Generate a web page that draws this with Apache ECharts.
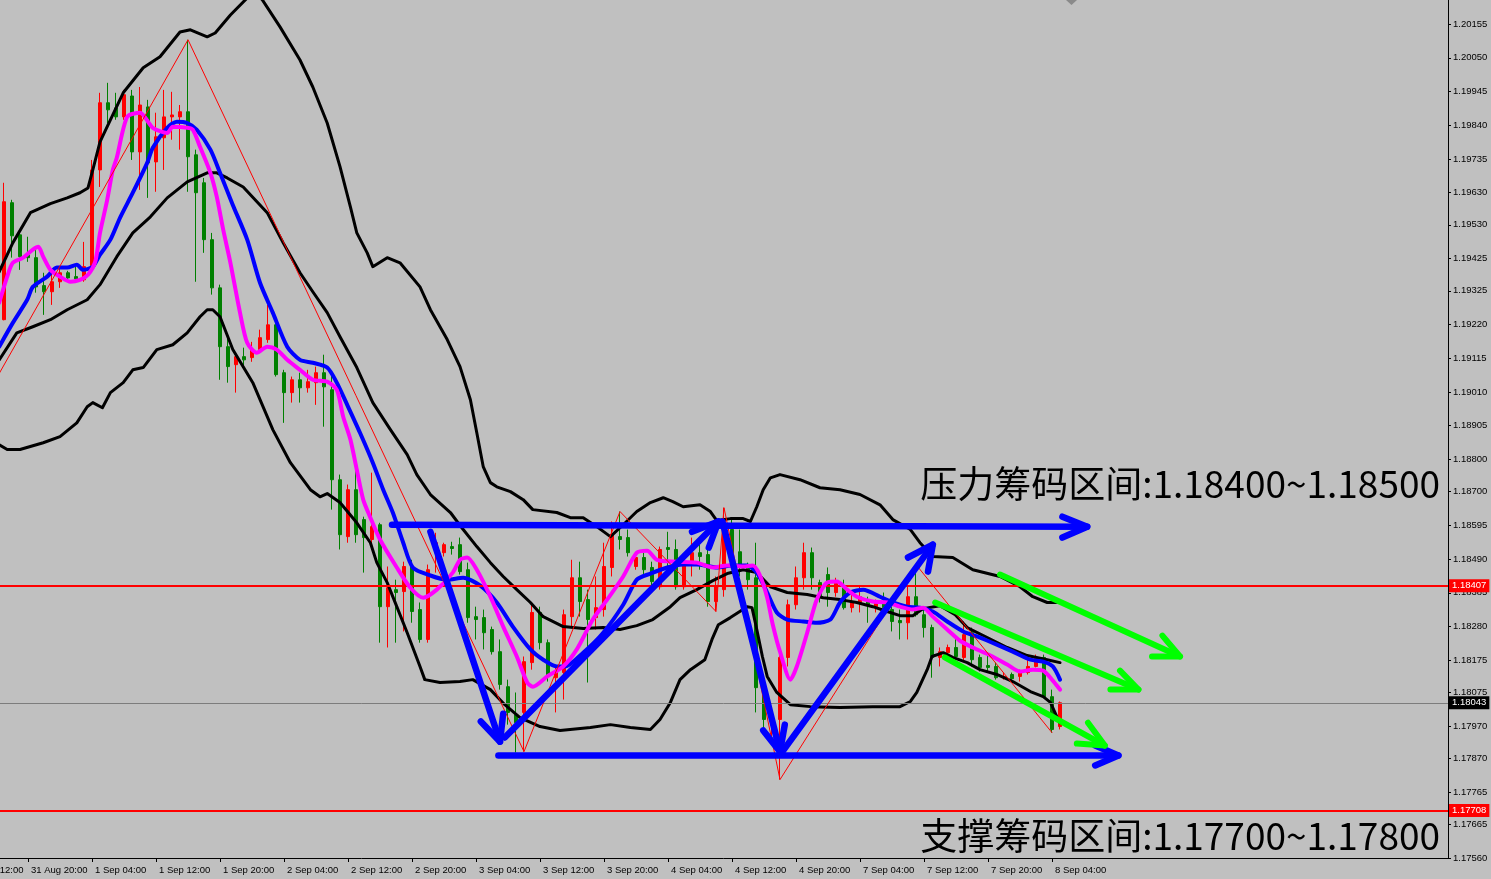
<!DOCTYPE html>
<html><head><meta charset="utf-8">
<script src="https://cdn.jsdelivr.net/npm/echarts@6.0.0/dist/echarts.min.js"></script>
<style>html,body{margin:0;padding:0;background:#c0c0c0;}#chart{width:1491px;height:879px;}</style>
</head><body><div id="chart"></div>
<script>
// ---------- categories (H1 bars) ----------
const dayBlocks = [['31 Aug',12,23],['1 Sep',0,23],['2 Sep',0,23],['3 Sep',0,23],['4 Sep',0,23],['7 Sep',0,23],['8 Sep',0,23],['9 Sep',0,23],['10 Sep',0,5]];
const firstBar = 5; // 31 Aug 17:00
// ---------- candles [open, close, low, high] ----------
const ohlc = [
[1.19235,1.19602,1.19233,1.19661],[1.19599,1.19496,1.19428,1.19608],[1.19499,1.19431,1.19390,1.19515],[1.19437,1.19428,1.19415,1.19493],
[1.19428,1.19337,1.19319,1.19462],[1.19341,1.19322,1.19250,1.19381],[1.19322,1.19353,1.19281,1.19381],[1.19353,1.19381,1.19334,1.19397],
[1.19381,1.19365,1.19359,1.19387],[1.19369,1.19362,1.19359,1.19400],[1.19359,1.19400,1.19353,1.19477],[1.19403,1.19701,1.19397,1.19732],
[1.19701,1.19910,1.19648,1.19941],[1.19910,1.19888,1.19847,1.19972],[1.19894,1.19866,1.19857,1.19941],[1.19866,1.19935,1.19857,1.19950],
[1.19931,1.19757,1.19732,1.19950],[1.19757,1.19903,1.19639,1.19959],[1.19897,1.19723,1.19614,1.19919],[1.19726,1.19804,1.19633,1.19879],
[1.19801,1.19866,1.19701,1.19950],[1.19866,1.19872,1.19795,1.19944],[1.19866,1.19882,1.19764,1.19903],[1.19882,1.19742,1.19633,1.20106],
[1.19748,1.19630,1.19353,1.19764],[1.19661,1.19484,1.19443,1.19676],[1.19484,1.19334,1.19313,1.19505],[1.19334,1.19151,1.19048,1.19344],
[1.19151,1.19089,1.19039,1.19182],[1.19095,1.19120,1.19008,1.19132],[1.19120,1.19110,1.19089,1.19148],[1.19117,1.19142,1.19104,1.19166],
[1.19142,1.19179,1.19132,1.19204],[1.19173,1.19219,1.19163,1.19281],[1.19219,1.19064,1.19058,1.19235],[1.19070,1.19008,1.18914,1.19079],
[1.19008,1.19048,1.18977,1.19058],[1.19048,1.19023,1.18977,1.19070],[1.19023,1.19042,1.19008,1.19079],[1.19039,1.19070,1.18970,1.19089],
[1.19070,1.19026,1.18902,1.19126],[1.19017,1.18737,1.18644,1.19070],[1.18737,1.18566,1.18520,1.18753],[1.18560,1.18706,1.18541,1.18722],
[1.18706,1.18566,1.18541,1.18768],[1.18613,1.18557,1.18448,1.18622],[1.18551,1.18591,1.18520,1.18759],[1.18597,1.18342,1.18230,1.18603],
[1.18342,1.18401,1.18215,1.18467],[1.18395,1.18386,1.18230,1.18426],[1.18389,1.18467,1.18265,1.18482],[1.18467,1.18327,1.18292,1.18488],
[1.18333,1.18240,1.18230,1.18355],[1.18240,1.18457,1.18230,1.18473],[1.18510,1.18541,1.18448,1.18572],[1.18510,1.18535,1.18498,1.18541],
[1.18529,1.18523,1.18504,1.18544],[1.18535,1.18451,1.18442,1.18557],[1.18457,1.18308,1.18292,1.18479],[1.18311,1.18302,1.18240,1.18342],
[1.18308,1.18261,1.18209,1.18333],[1.18271,1.18202,1.18193,1.18280],[1.18202,1.18100,1.18084,1.18240],[1.18093,1.18013,1.17975,1.18115],
[1.18006,1.17981,1.17888,1.18075],[1.18013,1.18171,1.17891,1.18187],[1.18168,1.18324,1.18146,1.18355],[1.18324,1.18230,1.18209,1.18342],
[1.18230,1.18125,1.18109,1.18240],[1.18121,1.18140,1.18013,1.18153],[1.18137,1.18317,1.18053,1.18333],[1.18311,1.18432,1.18280,1.18488],
[1.18432,1.18358,1.18311,1.18482],[1.18364,1.18302,1.18106,1.18395],[1.18308,1.18339,1.18271,1.18436],[1.18333,1.18467,1.18311,1.18541],
[1.18464,1.18566,1.18436,1.18607],[1.18560,1.18551,1.18520,1.18638],[1.18557,1.18510,1.18498,1.18582],[1.18467,1.18495,1.18457,1.18504],
[1.18495,1.18457,1.18436,1.18510],[1.18464,1.18420,1.18386,1.18482],[1.18404,1.18520,1.18395,1.18529],[1.18526,1.18520,1.18448,1.18575],
[1.18520,1.18404,1.18395,1.18551],[1.18404,1.18473,1.18395,1.18488],[1.18473,1.18510,1.18436,1.18557],[1.18510,1.18498,1.18457,1.18541],
[1.18504,1.18358,1.18342,1.18520],[1.18358,1.18404,1.18327,1.18436],[1.18395,1.18607,1.18373,1.18650],[1.18582,1.18510,1.18488,1.18619],
[1.18513,1.18473,1.18436,1.18582],[1.18473,1.18426,1.18395,1.18479],[1.18432,1.18090,1.18013,1.18541],[1.18090,1.17991,1.17960,1.18125],
[1.17981,1.17991,1.17919,1.18006],[1.17991,1.18184,1.17804,1.18209],[1.18184,1.18348,1.18156,1.18364],[1.18348,1.18432,1.18333,1.18467],
[1.18432,1.18510,1.18395,1.18541],[1.18510,1.18432,1.18395,1.18526],[1.18417,1.18373,1.18355,1.18426],[1.18442,1.18386,1.18342,1.18464],
[1.18386,1.18417,1.18373,1.18432],[1.18401,1.18339,1.18333,1.18426],[1.18339,1.18355,1.18324,1.18386],[1.18355,1.18373,1.18324,1.18404],
[1.18358,1.18348,1.18292,1.18373],[1.18342,1.18358,1.18324,1.18364],[1.18358,1.18339,1.18311,1.18386],[1.18333,1.18296,1.18265,1.18342],
[1.18299,1.18292,1.18240,1.18333],[1.18292,1.18373,1.18240,1.18404],[1.18373,1.18317,1.18311,1.18473],[1.18317,1.18277,1.18246,1.18342],
[1.18277,1.18184,1.18121,1.18286],[1.18184,1.18202,1.18156,1.18215],[1.18199,1.18215,1.18177,1.18224],[1.18215,1.18187,1.18177,1.18246],
[1.18184,1.18255,1.18171,1.18296],[1.18261,1.18177,1.18156,1.18277],[1.18184,1.18153,1.18140,1.18193],[1.18159,1.18153,1.18140,1.18199],
[1.18156,1.18121,1.18115,1.18168],[1.18121,1.18125,1.18115,1.18137],[1.18131,1.18118,1.18109,1.18137],[1.18125,1.18137,1.18109,1.18146],
[1.18137,1.18156,1.18131,1.18193],[1.18156,1.18184,1.18153,1.18193],[1.18184,1.18062,1.18059,1.18193],[1.18062,1.17960,1.17950,1.18084],
[1.17969,1.18043,1.17960,1.18047]
];
// ---------- price-axis tick labels ----------
const yTickValues = [1.20155,1.20050,1.19945,1.19840,1.19735,1.19630,1.19530,1.19425,1.19325,1.19220,1.19115,1.19010,1.18905,1.18800,1.18700,1.18595,1.18490,1.18385,1.18280,1.18175,1.18075,1.17970,1.17870,1.17765,1.17665,1.17560];
// ---------- indicator lines [bar index, price] ----------
const upperBand = [[4.4,1.19384],[6.1,1.19474],[8.3,1.19568],[10.8,1.19596],[12.9,1.19614],[14.5,1.19630],[15.5,1.19645],[16.1,1.19701],[17.0,1.19788],[18.3,1.19857],[19.9,1.19941],[22.4,1.20019],[24.5,1.20053],[27.0,1.20130],[28.3,1.20137],[30.4,1.20115],[31.4,1.20127],[33.3,1.20183],[35.4,1.20236],[36.4,1.20255],[37.3,1.20230],[39.5,1.20146],[42.0,1.20043],[43.6,1.19959],[45.4,1.19847],[47.0,1.19711],[48.3,1.19586],[49.1,1.19505],[50.4,1.19443],[51.1,1.19400],[52.9,1.19428],[54.5,1.19412],[57.0,1.19337],[58.3,1.19266],[60.4,1.19173],[62.0,1.19089],[63.3,1.18986],[64.1,1.18883],[64.9,1.18778],[65.8,1.18728],[66.6,1.18715],[68.3,1.18700],[69.9,1.18675],[71.1,1.18644],[74.1,1.18635],[75.8,1.18619],[77.4,1.18619],[79.1,1.18591],[80.8,1.18560],[82.4,1.18597],[84.1,1.18638],[85.8,1.18666],[87.4,1.18681],[88.6,1.18669],[89.9,1.18653],[92.0,1.18659],[93.3,1.18638],[94.1,1.18610],[95.8,1.18616],[97.4,1.18616],[98.3,1.18607],[99.1,1.18653],[99.9,1.18706],[100.8,1.18743],[102.0,1.18753],[104.5,1.18737],[107.0,1.18712],[109.5,1.18706],[112.0,1.18691],[114.5,1.18659],[116.1,1.18613],[118.3,1.18582],[119.5,1.18541],[121.1,1.18498],[123.6,1.18495],[126.1,1.18457],[129.5,1.18436],[132.0,1.18404],[133.6,1.18373],[135.4,1.18355],[137,1.18355]];
const middleBand = [[4.4,1.19110],[6.6,1.19194],[8.6,1.19213],[10.8,1.19235],[12.9,1.19266],[15.4,1.19297],[17.0,1.19344],[19.1,1.19431],[21.1,1.19505],[23.3,1.19555],[25.4,1.19614],[27.9,1.19664],[30.4,1.19692],[31.6,1.19692],[32.9,1.19676],[34.9,1.19648],[37.9,1.19568],[39.9,1.19474],[42.0,1.19381],[43.6,1.19322],[45.4,1.19257],[47.0,1.19182],[49.1,1.19086],[51.1,1.18977],[53.3,1.18893],[55.4,1.18815],[56.6,1.18753],[58.3,1.18691],[60.8,1.18635],[62.4,1.18582],[64.1,1.18529],[65.8,1.18479],[67.4,1.18436],[69.1,1.18395],[70.8,1.18355],[72.4,1.18311],[74.9,1.18280],[77.4,1.18274],[79.9,1.18277],[82.0,1.18271],[84.1,1.18283],[86.1,1.18302],[88.3,1.18342],[89.5,1.18370],[91.6,1.18395],[93.6,1.18423],[95.4,1.18445],[97.4,1.18457],[99.1,1.18448],[100.8,1.18404],[102.9,1.18386],[105.4,1.18380],[107.4,1.18370],[109.5,1.18364],[111.6,1.18355],[113.6,1.18342],[115.4,1.18327],[117.0,1.18314],[118.6,1.18314],[119.9,1.18336],[122.0,1.18345],[123.9,1.18317],[125.4,1.18277],[127.9,1.18246],[130.4,1.18215],[132.9,1.18190],[135.4,1.18177],[137,1.18168]];
const lowerBand = [[4.4,1.18846],[5.4,1.18831],[7.0,1.18831],[9.9,1.18852],[12.0,1.18871],[14.1,1.18914],[15.4,1.18964],[16.1,1.18977],[17.3,1.18961],[18.3,1.19008],[19.9,1.19039],[21.1,1.19079],[22.4,1.19086],[24.1,1.19142],[26.1,1.19157],[27.9,1.19194],[29.5,1.19244],[30.4,1.19266],[31.1,1.19266],[32.0,1.19244],[33.6,1.19142],[36.1,1.19039],[38.6,1.18893],[40.8,1.18790],[43.3,1.18706],[44.5,1.18684],[45.4,1.18694],[47.0,1.18666],[49.1,1.18603],[50.8,1.18541],[51.6,1.18479],[52.9,1.18417],[54.1,1.18342],[55.4,1.18261],[57.0,1.18156],[57.6,1.18115],[59.5,1.18106],[62.0,1.18109],[63.6,1.18115],[65.8,1.18084],[67.6,1.18037],[69.5,1.17997],[72.0,1.17969],[74.5,1.17957],[78.3,1.17966],[80.8,1.17975],[83.3,1.17966],[85.8,1.17960],[87.0,1.17991],[88.3,1.18044],[89.5,1.18115],[90.8,1.18146],[92.6,1.18177],[93.5,1.18240],[94.3,1.18286],[95.8,1.18308],[97.9,1.18342],[98.5,1.18339],[99.1,1.18271],[99.8,1.18187],[100.4,1.18125],[101.6,1.18075],[103.3,1.18037],[105.8,1.18031],[109.5,1.18028],[113.6,1.18031],[117.0,1.18031],[118.3,1.18047],[119.1,1.18075],[120.4,1.18146],[121.0,1.18187],[122.4,1.18199],[123.6,1.18184],[125.4,1.18168],[127.0,1.18146],[129.1,1.18131],[131.1,1.18109],[133.3,1.18078],[134.9,1.18062],[135.8,1.18044],[136.6,1.18000],[137,1.17981]];
const magentaMA = [[4.4,1.19288],[5.4,1.19369],[6.1,1.19412],[7.4,1.19428],[8.6,1.19453],[9.3,1.19462],[9.9,1.19431],[10.8,1.19390],[12.0,1.19369],[13.3,1.19353],[14.5,1.19359],[15.5,1.19375],[16.4,1.19415],[17.0,1.19505],[17.9,1.19608],[18.6,1.19701],[19.1,1.19739],[20.4,1.19866],[22.0,1.19879],[23.6,1.19832],[25.4,1.19816],[26.1,1.19835],[27.9,1.19832],[28.6,1.19826],[29.5,1.19773],[30.8,1.19692],[31.6,1.19617],[32.4,1.19515],[33.3,1.19412],[34.5,1.19257],[35.4,1.19163],[36.6,1.19132],[37.9,1.19151],[39.1,1.19142],[40.4,1.19110],[42.0,1.19079],[43.6,1.19048],[45.4,1.19042],[46.6,1.19017],[47.4,1.18933],[48.3,1.18862],[49.1,1.18768],[49.9,1.18675],[50.8,1.18619],[52.0,1.18551],[54.1,1.18464],[55.8,1.18401],[57.4,1.18370],[59.1,1.18395],[61.1,1.18448],[62.0,1.18488],[62.9,1.18495],[64.1,1.18457],[65.8,1.18373],[67.4,1.18280],[69.1,1.18187],[70.4,1.18106],[71.1,1.18093],[72.9,1.18125],[74.9,1.18156],[76.6,1.18209],[78.6,1.18302],[80.4,1.18364],[82.4,1.18436],[84.1,1.18510],[85.4,1.18516],[86.6,1.18488],[89.1,1.18482],[91.6,1.18479],[93.6,1.18464],[95.4,1.18470],[97.4,1.18467],[98.6,1.18470],[99.5,1.18439],[100.4,1.18370],[101.1,1.18286],[102.0,1.18202],[103.3,1.18115],[104.1,1.18156],[105.4,1.18261],[106.6,1.18364],[107.9,1.18417],[109.1,1.18420],[110.4,1.18395],[111.6,1.18373],[113.6,1.18358],[115.4,1.18355],[117.0,1.18342],[118.6,1.18333],[119.9,1.18339],[121.1,1.18311],[122.9,1.18271],[124.5,1.18236],[126.1,1.18215],[128.3,1.18190],[130.4,1.18162],[132.0,1.18140],[133.6,1.18146],[134.9,1.18143],[136.1,1.18112],[137,1.18084]];
const blueMA = [[4.4,1.19151],[6.1,1.19225],[7.9,1.19297],[8.6,1.19337],[10.4,1.19369],[11.6,1.19397],[12.9,1.19397],[14.1,1.19406],[14.9,1.19390],[16.1,1.19400],[17.0,1.19437],[18.3,1.19484],[19.5,1.19552],[21.1,1.19630],[22.9,1.19723],[23.6,1.19770],[25.4,1.19832],[26.6,1.19851],[27.9,1.19847],[29.1,1.19826],[30.8,1.19764],[32.0,1.19692],[33.6,1.19592],[35.4,1.19484],[37.0,1.19350],[38.6,1.19257],[40.4,1.19151],[42.0,1.19110],[43.6,1.19101],[45.4,1.19086],[46.6,1.19039],[47.9,1.18970],[49.5,1.18883],[51.1,1.18790],[52.4,1.18706],[53.6,1.18635],[54.9,1.18541],[56.1,1.18464],[58.3,1.18439],[60.4,1.18426],[62.4,1.18432],[64.5,1.18408],[66.6,1.18355],[68.6,1.18280],[70.8,1.18209],[72.4,1.18177],[74.1,1.18156],[75.1,1.18156],[77.4,1.18199],[79.9,1.18261],[82.4,1.18348],[84.1,1.18426],[85.8,1.18445],[87.9,1.18464],[89.9,1.18473],[91.6,1.18473],[94.1,1.18464],[96.1,1.18470],[97.9,1.18470],[99.1,1.18448],[100.4,1.18386],[101.6,1.18324],[102.9,1.18302],[104.9,1.18296],[106.6,1.18292],[108.3,1.18302],[109.5,1.18355],[110.8,1.18386],[112.4,1.18395],[114.5,1.18373],[116.1,1.18355],[117.9,1.18342],[119.5,1.18339],[121.1,1.18327],[122.9,1.18296],[124.9,1.18265],[127.0,1.18246],[129.1,1.18224],[131.1,1.18202],[133.3,1.18177],[134.9,1.18171],[136.1,1.18156],[137,1.18115]];
const zigzag = [[0,1.18874],[28,1.20106],[70,1.17891],[82,1.18638],[94,1.18327],[95,1.18650],[102,1.17804],[119,1.18473],[136,1.17950]];
// ---------- hand-drawn arrows: from, tip, two head arms ----------
const blueArrows = [
 {from:[53.5,1.18597], tip:[140.4,1.18591], a:[137.3,1.18622], b:[137.3,1.18557]},
 {from:[66.8,1.17879], tip:[144.3,1.17879], a:[141.4,1.17910], b:[141.4,1.17848]},
 {from:[58.3,1.18575], tip:[67.0,1.17922], a:[64.6,1.17985], b:[67.4,1.18009]},
 {from:[67.6,1.17935], tip:[94.3,1.18607], a:[91.0,1.18575], b:[93.1,1.18526]},
 {from:[94.8,1.18607], tip:[102.0,1.17891], a:[99.9,1.17957], b:[102.6,1.17975]},
 {from:[102.3,1.17891], tip:[121.1,1.18535], a:[118.0,1.18495], b:[120.5,1.18451]}
];
const greenArrows = [
 {from:[129.5,1.18442], tip:[152.0,1.18187], a:[149.8,1.18252], b:[148.5,1.18187]},
 {from:[121.4,1.18355], tip:[146.8,1.18084], a:[144.5,1.18143], b:[143.3,1.18084]},
 {from:[122.6,1.18184], tip:[142.6,1.17910], a:[140.5,1.17981], b:[139.1,1.17916]}
];
const levels = {resist:1.18407, support:1.17708, last:1.18043};
const notes = ['压力筹码区间:1.18400~1.18500','支撑筹码区间:1.17700~1.17800'];

// ---------- build ----------
const categories = [];
dayBlocks.forEach(([d,h0,h1])=>{for(let h=h0;h<=h1;h++)categories.push(d+' '+String(h).padStart(2,'0')+':00');});
const lastBar = firstBar + ohlc.length - 1;
const candleData = categories.map((c,i)=> (i>=firstBar && i<=lastBar) ? ohlc[i-firstBar] : '-');
const showLabel = (idx,val)=> idx<=lastBar && /(04|12|20):00$/.test(val);
const arrowData = arr => { const out=[]; arr.forEach(a=>{ out.push({coords:[a.from,a.tip]}); out.push({coords:[a.a,a.tip,a.b]}); }); return out; };
const lineSeries = (data,color,width,z,smooth)=>({type:'line',xAxisIndex:1,yAxisIndex:0,data,showSymbol:false,symbol:'none',smooth:smooth||false,lineStyle:{color,width,cap:'round',join:'round'},z,silent:true,clip:true});

const chart = echarts.init(document.getElementById('chart'), null, {renderer:'canvas'});
const mlLabel = (txt,bg)=>({show:true,position:'end',formatter:txt,color:'#fff',backgroundColor:bg,padding:[2,3,1,3],fontSize:9.5,fontFamily:'Liberation Sans',distance:1});
const zig = lineSeries(zigzag,'#ff0000',1,6);
zig.markLine = {silent:true,symbol:['none','none'],animation:false,precision:5,
  data:[
    {yAxis:levels.last,lineStyle:{color:'#7c7c7c',width:1,type:'solid'},label:mlLabel(levels.last.toFixed(5),'#000')},
    {yAxis:levels.resist,lineStyle:{color:'#ff0000',width:2,type:'solid'},label:mlLabel(levels.resist.toFixed(5),'#ff0000')},
    {yAxis:levels.support,lineStyle:{color:'#ff0000',width:2,type:'solid'},label:mlLabel(levels.support.toFixed(5),'#ff0000')}
  ]};
chart.setOption({
  animation:false,
  backgroundColor:'#c0c0c0',
  grid:{left:-40,right:43,top:0,bottom:21,containLabel:false,outerBoundsMode:'none'},
  xAxis:[
    {type:'category',data:categories,boundaryGap:true,gridIndex:0,
     axisLine:{show:true,onZero:false,lineStyle:{color:'#000',width:1}},
     axisTick:{show:true,alignWithLabel:true,interval:showLabel,length:4,lineStyle:{color:'#000'}},
     axisLabel:{interval:showLabel,align:'left',padding:[0,0,0,3],margin:7,color:'#000',fontSize:9.5,fontFamily:'Liberation Sans'},
     splitLine:{show:false}},
    {type:'value',min:-0.5,max:185.5,show:false,gridIndex:0,axisLine:{onZero:false}}
  ],
  yAxis:{type:'value',position:'right',min:1.17560,max:1.202297,
     axisLine:{show:true,onZero:false,lineStyle:{color:'#000',width:1}},
     axisTick:{show:true,length:3,customValues:yTickValues,lineStyle:{color:'#000'}},
     axisLabel:{customValues:yTickValues,formatter:v=>v.toFixed(5),color:'#000',fontSize:9.5,fontFamily:'Liberation Sans',margin:5},
     splitLine:{show:false}},
  graphic:[
    {type:'text',x:1440,y:484,z:100,style:{text:notes[0],fill:'#000',font:'37px "Noto Sans CJK SC"',align:'right',verticalAlign:'middle'}},
    {type:'text',x:1440,y:836,z:100,style:{text:notes[1],fill:'#000',font:'37px "Noto Sans CJK SC"',align:'right',verticalAlign:'middle'}},
    {type:'polygon',z:100,shape:{points:[[1066,0],[1077,0],[1071.5,5]]},style:{fill:'#8a8a8a'}}
  ],
  series:[
    {type:'candlestick',xAxisIndex:0,yAxisIndex:0,data:candleData,barWidth:4,z:2,silent:true,
     itemStyle:{color:'#ff0000',color0:'#008000',borderColor:'#ff0000',borderColor0:'#008000',borderWidth:1}},
    lineSeries(upperBand,'#000',3,3),
    lineSeries(middleBand,'#000',3,3),
    lineSeries(lowerBand,'#000',3,3),
    lineSeries(blueMA,'#0000ff',4,4,0.25),
    lineSeries(magentaMA,'#ff00ff',4,5,0.25),
    zig,
    {type:'lines',coordinateSystem:'cartesian2d',xAxisIndex:1,yAxisIndex:0,polyline:true,silent:true,z:10,
     lineStyle:{color:'#0000ff',width:6.5,opacity:1,curveness:0,cap:'round',join:'round'},data:arrowData(blueArrows)},
    {type:'lines',coordinateSystem:'cartesian2d',xAxisIndex:1,yAxisIndex:0,polyline:true,silent:true,z:11,
     lineStyle:{color:'#00ff00',width:6,opacity:1,curveness:0,cap:'round',join:'round'},data:arrowData(greenArrows)}
  ]
});
</script></body></html>
